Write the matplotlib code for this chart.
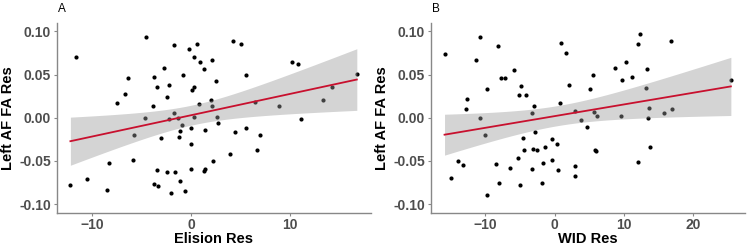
import matplotlib.pyplot as plt
import numpy as np

plt.rcParams['font.family'] = ['Liberation Sans', 'DejaVu Sans']

# panel A: Elision residuals vs left AF FA residuals
elision_x = [-12.17, -11.6, -10.5, -8.5, -8.3, -7.5, -6.7, -6.4, -5.9, -5.8,
             -4.6, -4.5, -3.8, -3.7, -3.7, -3.4, -3.4, -3.3, -3.0, -2.7,
             -2.4, -2.4, -2.2, -2.2, -2.05, -1.7, -1.7, -1.6, -1.3, -1.25,
             -1.1, -1.1, -0.9, -0.85, -0.6, -0.24, -0.03, 0.0, 0.03, 0.07,
             0.24, 0.3, 0.27, 0.64, 0.84, 0.9, 1.28, 1.3, 1.4, 1.4,
             2.0, 2.1, 2.1, 2.2, 2.55, 2.6, 2.7, 3.9, 4.2, 4.4,
             5.04, 5.5, 5.5, 6.4, 6.66, 6.9, 8.9, 10.2, 10.8, 11.1,
             13.3, 14.2, 16.7]
elision_y = [-0.0776, 0.0703, -0.071, -0.084, -0.052, 0.0176, 0.027, 0.046, -0.049, -0.020,
             0.0, 0.094, 0.013, 0.047, -0.0765, -0.061, 0.035, -0.0795, -0.023, 0.057,
             0.0245, -0.063, 0.038, -0.001, -0.087, 0.084, 0.0056, -0.063, 0.0, -0.022,
             -0.015, -0.073, -0.0079, 0.049, -0.085, 0.080, -0.060, -0.0117, -0.031, 0.0326,
             0.070, 0.035, 0.0013, 0.085, 0.016, 0.065, 0.056, -0.062, -0.060, -0.014,
             0.021, 0.067, 0.0137, -0.050, 0.043, 0.001, -0.0056, -0.042, 0.089, -0.017,
             0.085, 0.049, -0.0114, 0.0187, -0.037, -0.020, 0.013, 0.064, 0.062, -0.0013,
             0.020, 0.036, 0.051]

# panel B: WID residuals vs left AF FA residuals
wid_x = [-15.9, -14.9, -13.9, -13.2, -12.8, -12.6, -11.3, -10.8, -10.8, -10.0,
         -9.8, -9.8, -8.5, -8.1, -8.0, -7.75, -7.2, -6.4, -5.8, -5.3,
         -5.2, -5.0, -4.8, -4.6, -4.4, -4.1, -3.3, -3.2, -3.0, -3.1,
         -2.8, -2.55, -1.8, -1.7, -1.44, -0.43, -0.39, 0.29, 0.5, 0.77,
         0.87, 1.6, 2.1, 2.9, 2.9, 3.0, 3.8, 4.77, 5.2, 5.5,
         5.7, 5.8, 6.07, 6.1, 8.7, 9.6, 9.7, 10.3, 11.2, 12.1,
         12.1, 12.3, 13.2, 13.4, 13.5, 13.7, 13.8, 15.9, 17.0, 16.85,
         25.5]
wid_y = [0.0734, -0.070, -0.050, -0.0545, 0.0106, 0.0214, 0.067, 0.0, 0.0934, -0.020,
         0.0337, -0.089, -0.054, 0.0834, -0.0758, 0.046, 0.0457, -0.058, 0.0557, -0.047,
         0.026, -0.078, 0.0368, -0.023, -0.037, 0.026, 0.0056, -0.059, 0.0133, -0.036,
         -0.017, -0.0376, -0.0758, -0.053, -0.0337, -0.049, -0.0249, -0.030, -0.0607, 0.0171,
         0.0869, 0.075, 0.0383, -0.0565, -0.067, 0.0075, -0.0025, -0.011, 0.0337, 0.049,
         0.0071, -0.0376, -0.038, 0.0025, 0.057, 0.0021, 0.044, 0.0645, 0.047, -0.0515,
         0.0853, 0.0973, 0.0349, 0.0564, 0.0, 0.011, -0.0345, 0.0052, 0.0098, 0.0888,
         0.0441]


def lm_band(x, y):
    x = np.asarray(x)
    y = np.asarray(y)
    n = len(x)
    b, a = np.polyfit(x, y, 1)
    xs = np.linspace(x.min(), x.max(), 80)
    fit = a + b * xs
    resid = y - (a + b * x)
    s = np.sqrt(np.sum(resid ** 2) / (n - 2))
    se = s * np.sqrt(1.0 / n + (xs - x.mean()) ** 2 / np.sum((x - x.mean()) ** 2))
    t = 1.993
    return xs, fit, fit - t * se, fit + t * se


fig = plt.figure(figsize=(7.48, 2.47), dpi=100)

panels = [
    ("A", elision_x, elision_y, "Elision Res", [-10, 0, 10], (-13.55, 18.1), 0.0758),
    ("B", wid_x, wid_y, "WID Res", [-10, 0, 10, 20], (-17.9, 27.5), 0.5758),
]

for tag, xv, yv, xlab, xt, xlim, left in panels:
    ax = fig.add_axes([left, 0.139, 0.4198, 0.769])
    ax.scatter(xv, yv, s=9, color="black", zorder=2, linewidths=0)
    xs, fit, lo, hi = lm_band(xv, yv)
    ax.fill_between(xs, lo, hi, color="#999999", alpha=0.42, linewidth=0, zorder=3)
    ax.plot(xs, fit, color="#c8102e", linewidth=1.3, zorder=4)

    ax.set_xlim(*xlim)
    ax.set_ylim(-0.11, 0.11)
    ax.set_xticks(xt)
    ax.set_yticks([-0.10, -0.05, 0.0, 0.05, 0.10])
    ax.set_yticklabels(["-0.10", "-0.05", "0.00", "0.05", "0.10"])
    for sp in ["top", "right"]:
        ax.spines[sp].set_visible(False)
    for sp in ["left", "bottom"]:
        ax.spines[sp].set_color("#888888")
        ax.spines[sp].set_linewidth(1.0)
    ax.tick_params(colors="#888888", length=2.5, width=0.8, pad=1.5)
    ax.tick_params(axis="x", pad=1)
    for lab in ax.get_xticklabels() + ax.get_yticklabels():
        lab.set_color("#4d4d4d")
        lab.set_fontweight("bold")
        lab.set_fontsize(10)
    ax.set_xlabel(xlab, fontsize=10.5, fontweight="bold", color="black", labelpad=0)
    ax.set_ylabel("Left AF FA Res", fontsize=10.5, fontweight="bold", color="black", labelpad=3)
    ax.text(0.003, 1.056, tag, transform=ax.transAxes, fontsize=8.5, color="black",
            ha="left", va="baseline")

fig.savefig("out.png", dpi=100)
